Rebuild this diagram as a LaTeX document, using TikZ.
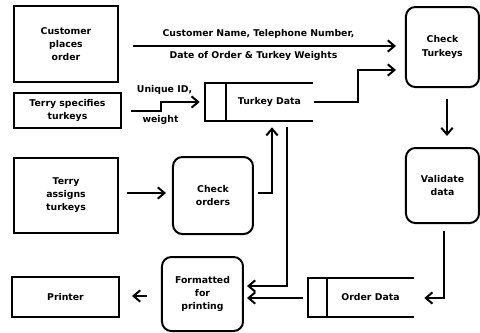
\documentclass[tikz,border=0pt]{standalone}
\usepackage{fontspec}
\setsansfont{DejaVu Sans}
\usetikzlibrary{arrows.meta,calc}

\tikzset{
  ent/.style={draw, line width=1.5pt, align=center, inner sep=0pt},
  proc/.style={draw, line width=1.5pt, rounded corners=7pt, align=center, inner sep=0pt},
  store/.style={inner sep=0pt},
  flow/.style={line width=1.5pt, -{Straight Barb[length=5pt,width=8.5pt]}}
}

\begin{document}
\begin{tikzpicture}[x=0.75pt, y=-0.75pt, font=\sffamily\bfseries\fontsize{7pt}{10pt}\selectfont]
	\useasboundingbox (0,0) rectangle (480,333);

	% external entities
	\node[ent, minimum width=78pt, minimum height=57pt] (cust) at (66,44) {Customer\\places\\order};
	\node[ent, minimum width=80.25pt, minimum height=26.25pt] (tspec) at (67.5,110.5) {Terry specifies\\turkeys};
	\node[ent, minimum width=78pt, minimum height=56.25pt] (tassign) at (66,195) {Terry\\assigns\\turkeys};
	\node[ent, minimum width=80.25pt, minimum height=30pt] (printer) at (65.5,297) {Printer};

	% processes
	\node[proc, minimum width=60pt, minimum height=57.75pt] (chkord) at (213,195.5) {Check\\orders};
	\node[proc, minimum width=60.75pt, minimum height=55.5pt] (fmt) at (202.5,294) {Formatted\\for\\printing};
	\node[proc, minimum width=54.75pt, minimum height=60pt] (chkturk) at (442.5,47) {Check\\Turkeys};
	\node[proc, minimum width=54.75pt, minimum height=56.25pt] (valid) at (442.5,185.5) {Validate\\data};

	% data stores
	\node[store, minimum width=81pt, minimum height=28.5pt] (tdata) at (259,102) {\hspace*{15.75pt}Turkey Data};
	\node[store, minimum width=79.5pt, minimum height=29.25pt] (odata) at (361,297.5) {\hspace*{14.25pt}Order Data};
	\draw[line width=1.5pt] (tdata.north east) -- (tdata.north west) -- (tdata.south west) -- (tdata.south east);
	\draw[line width=1.5pt] ($(tdata.north west)+(21,0)$) -- ($(tdata.south west)+(21,0)$);
	\draw[line width=1.5pt] (odata.north east) -- (odata.north west) -- (odata.south west) -- (odata.south east);
	\draw[line width=1.5pt] ($(odata.north west)+(19,0)$) -- ($(odata.south west)+(19,0)$);

	% flows
	\draw[flow] ($(cust.east)+(14,2)$) -- ($(cust.east -| chkturk.west)+(-9,2)$);
	\draw[flow] ($(tspec.east)+(9,0.5)$) -- ++(30,0) |- ($(tdata.west)+(-5,0)$);
	\draw[flow] ($(tdata.east)+(1,0)$) -- ++(44,0) |- ($(chkturk.west)+(-9,23)$);
	\draw[flow] ($(chkturk.south)+(4.5,11)$) -- ($(valid.north)+(4.5,-11)$);
	\draw[flow] ($(valid.south)+(1.5,7)$) |- ($(odata.east)+(10,0.5)$);
	\draw[flow] ($(odata.west)+(-5,0.5)$) -- ($(odata.west -| fmt.east)+(3,0.5)$);
	\draw[flow] ($(tdata.south)+(28,6)$) |- ($(fmt.east)+(3,-8)$);
	\draw[flow] ($(chkord.east)+(4,-2.5)$) -| ($(tdata.south)+(13,6)$);
	\draw[flow] ($(tassign.east)+(8,-2)$) -- ($(tassign.east -| chkord.west)+(-6,-2)$);
	\draw[flow] ($(printer.east -| fmt.west)+(-14,-1)$) -- ($(printer.east)+(12,-1)$);

	% flow labels
	\node (lblname) at (258.5,34) {Customer Name, Telephone Number,};
	\node (lbldate) at (253.5,56) {Date of Order \& Turkey Weights};
	\node (lblid) at (164.5,90) {Unique ID,};
	\node (lblwt) at (160.5,120) {weight};
\end{tikzpicture}
\end{document}
